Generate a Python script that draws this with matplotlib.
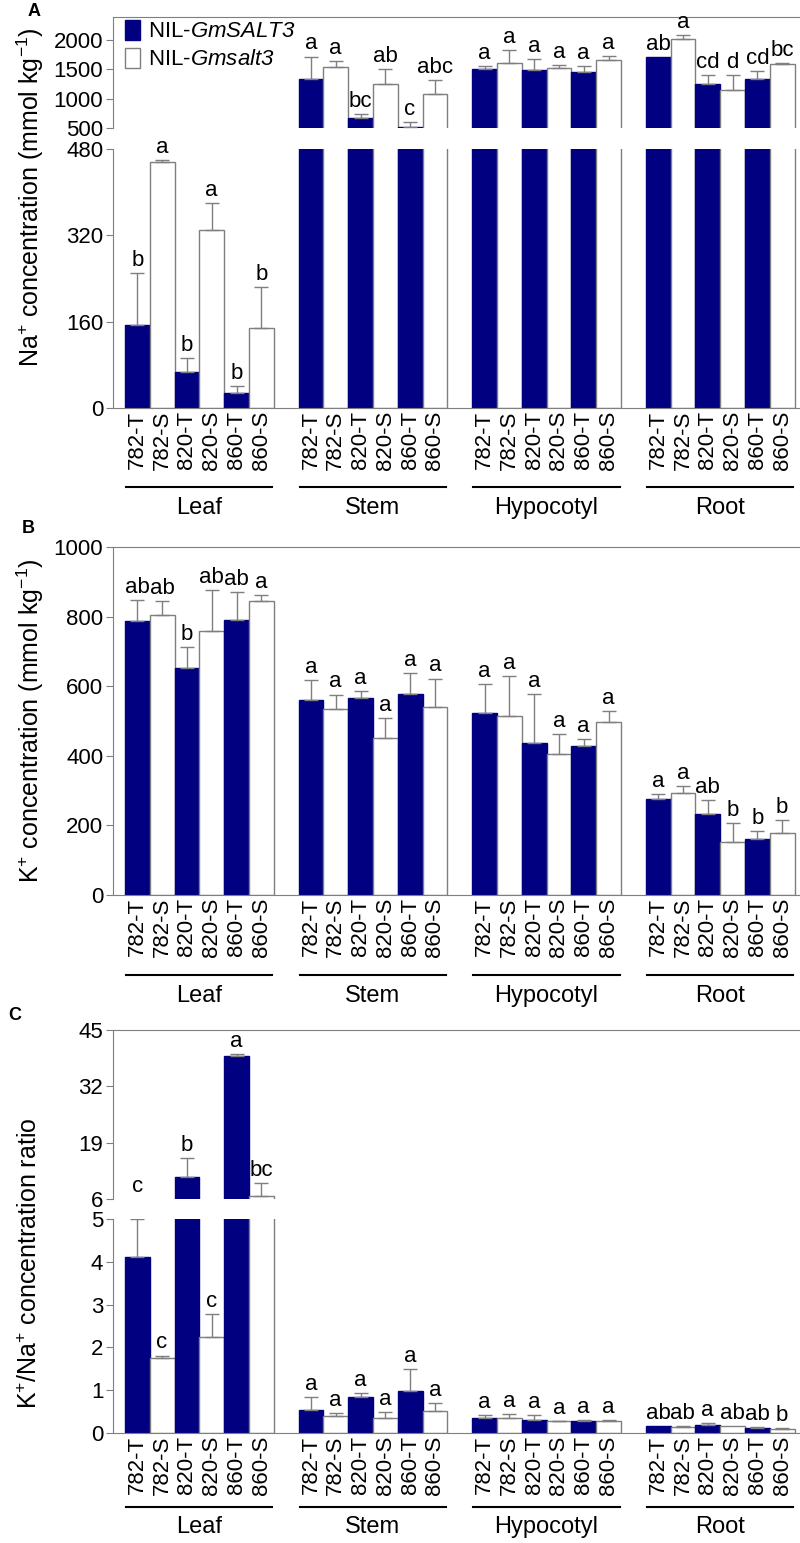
import numpy as np
import matplotlib
matplotlib.use('Agg')
import matplotlib.pyplot as plt
from matplotlib.transforms import ScaledTranslation
from matplotlib.lines import Line2D
from matplotlib.patches import Patch

plt.rcParams['font.family'] = ['Liberation Sans', 'DejaVu Sans']
plt.rcParams['mathtext.fontset'] = 'custom'
plt.rcParams['mathtext.rm'] = 'Liberation Sans'
plt.rcParams['mathtext.it'] = 'Liberation Sans:italic'
plt.rcParams['mathtext.sf'] = 'Liberation Sans:italic'

tissues = ['Leaf', 'Stem', 'Hypocotyl', 'Root']
samples = ['782-T', '782-S', '820-T', '820-S', '860-T', '860-S']

# Na+ concentration (mmol kg-1), one row per tissue
na_mean = [[153, 455, 66, 330, 27, 149],
           [1327, 1532, 677, 1241, 515, 1081],
           [1498, 1600, 1486, 1526, 1446, 1663],
           [1709, 2011, 1247, 1139, 1332, 1589]]
na_err = [[97, 4, 26, 49, 13, 75],
          [388, 102, 57, 268, 80, 234],
          [51, 223, 183, 40, 114, 63],
          [0, 63, 154, 262, 131, 11]]
na_letters = [['b', 'a', 'b', 'a', 'b', 'b'],
              ['a', 'a', 'bc', 'ab', 'c', 'abc'],
              ['a', 'a', 'a', 'a', 'a', 'a'],
              ['ab', 'a', 'cd', 'd', 'cd', 'bc']]

# K+ concentration (mmol kg-1)
k_mean = [[786, 805, 651, 760, 791, 845],
          [559, 534, 566, 451, 578, 540],
          [524, 514, 438, 405, 428, 497],
          [276, 293, 233, 152, 161, 179]]
k_err = [[62, 39, 62, 115, 79, 18],
         [59, 42, 20, 58, 59, 82],
         [83, 116, 140, 58, 19, 32],
         [14, 20, 40, 55, 23, 37]]
k_letters = [['ab', 'ab', 'b', 'ab', 'ab', 'a'],
             ['a', 'a', 'a', 'a', 'a', 'a'],
             ['a', 'a', 'a', 'a', 'a', 'a'],
             ['a', 'a', 'ab', 'b', 'b', 'b']]

# K+/Na+ ratio
r_mean = [[4.12, 1.75, 11.0, 2.24, 39.1, 6.77],
          [0.53, 0.39, 0.83, 0.36, 0.99, 0.52],
          [0.345, 0.34, 0.30, 0.27, 0.28, 0.29],
          [0.165, 0.14, 0.19, 0.17, 0.11, 0.09]]
r_err = [[0.88, 0.06, 4.5, 0.55, 0.4, 2.9],
         [0.30, 0.08, 0.11, 0.13, 0.5, 0.18],
         [0.07, 0.11, 0.13, 0.02, 0.03, 0.02],
         [0.0, 0.015, 0.05, 0.0, 0.02, 0.02]]
r_letters = [['c', 'c', 'b', 'c', 'a', 'bc'],
             ['a', 'a', 'a', 'a', 'a', 'a'],
             ['a', 'a', 'a', 'a', 'a', 'a'],
             ['ab', 'ab', 'a', 'ab', 'ab', 'b']]

NAVY = '#000080'
GREY = '#7f7f7f'
FS = 16

W, H = 800, 1543
fig = plt.figure(figsize=(W / 100, H / 100), dpi=100)


def px_axes(top, bottom, left=113, right=800):
    return fig.add_axes([left / W, 1 - bottom / H, (right - left) / W, (bottom - top) / H])


xpos = np.array([k * 7 + j for k in range(4) for j in range(6)])
xlabels = samples * 4
colors = [NAVY if s.endswith('T') else 'white' for s in xlabels]
edges = [NAVY if s.endswith('T') else GREY for s in xlabels]


def draw_bars(ax, mean, err):
    m = np.array(mean).ravel()
    e = np.array(err).ravel()
    ax.bar(xpos, m, width=1.0, color=colors, edgecolor=edges, linewidth=1)
    keep = e > 0
    ax.errorbar(xpos[keep], m[keep], yerr=[np.zeros(keep.sum()), e[keep]], fmt='none',
                ecolor=GREY, elinewidth=1, capsize=5, capthick=1)
    ax.set_xlim(-0.98, 26.72)


def style(ax, top=True, bottom=True):
    for s in ax.spines.values():
        s.set_color(GREY)
    ax.spines['right'].set_visible(False)
    ax.spines['top'].set_visible(top)
    ax.spines['bottom'].set_visible(bottom)
    ax.tick_params(axis='y', direction='out', length=5, color=GREY, labelsize=FS, pad=2)
    ax.tick_params(axis='x', length=0)


def letters(ax_low, ax_up, mean, err, labs):
    m = np.array(mean).ravel()
    e = np.array(err).ravel()
    lo_max = ax_low.get_ylim()[1]
    for xi, t, s in zip(xpos, m + e, np.array(labs).ravel()):
        ax = ax_low
        y = t
        if ax_up is not None and t >= lo_max * 0.99:
            ax = ax_up
            y = max(t, ax_up.get_ylim()[0])
        ax.annotate(s, (xi, y), xytext=(0, 1.5), textcoords='offset points',
                    ha='center', va='bottom', fontsize=FS, annotation_clip=False)


def xaxis_groups(ax, line_px, text_px):
    ax.set_xticks(xpos)
    ax.set_xticklabels(xlabels, rotation=90, fontsize=FS)
    ax.tick_params(axis='x', pad=2)
    trans = ax.get_xaxis_transform()
    for k, name in enumerate(tissues):
        off = ScaledTranslation(0, -line_px / 100, fig.dpi_scale_trans)
        ax.add_line(Line2D([k * 7 - 0.45, k * 7 + 5.45], [0, 0], transform=trans + off,
                           color='black', lw=1.5, clip_on=False))
        off2 = ScaledTranslation(0, -text_px / 100, fig.dpi_scale_trans)
        ax.text(k * 7 + 2.5, 0, name, transform=trans + off2, ha='center', va='center', fontsize=17)


# Panel A: Na+ with broken axis
a_up = px_axes(17, 128)
a_lo = px_axes(149, 408)
for ax in (a_up, a_lo):
    draw_bars(ax, na_mean, na_err)
a_up.set_ylim(500, 2387)
a_up.set_yticks([500, 1000, 1500, 2000])
a_lo.set_ylim(0, 480)
a_lo.set_yticks([0, 160, 320, 480])
style(a_up, top=True, bottom=False)
style(a_lo, top=False, bottom=True)
a_up.set_xticks([])
letters(a_lo, a_up, na_mean, na_err, na_letters)
xaxis_groups(a_lo, 79, 100)
a_up.legend(handles=[Patch(facecolor=NAVY, edgecolor=NAVY), Patch(facecolor='white', edgecolor=GREY)],
            labels=['NIL-$\\mathsf{GmSALT3}$', 'NIL-$\\mathsf{Gmsalt3}$'], loc='upper left',
            bbox_to_anchor=(0.017, 0.975), frameon=False, fontsize=FS, borderpad=0,
            borderaxespad=0, handlelength=0.7, handleheight=1.0, handletextpad=0.35,
            labelspacing=0.25)
fig.text(30 / W, 1 - 197 / H, 'Na$^{+}$ concentration (mmol kg$^{-1}$)', rotation=90,
         ha='center', va='center', fontsize=18)

# Panel B: K+
b = px_axes(547, 895)
draw_bars(b, k_mean, k_err)
b.set_ylim(0, 1000)
b.set_yticks([0, 200, 400, 600, 800, 1000])
style(b, top=True, bottom=True)
letters(b, None, k_mean, k_err, k_letters)
xaxis_groups(b, 80, 101)
fig.text(30 / W, 1 - 721 / H, 'K$^{+}$ concentration (mmol kg$^{-1}$)', rotation=90,
         ha='center', va='center', fontsize=18)

# Panel C: K+/Na+ ratio with broken axis
c_up = px_axes(1030, 1199)
c_lo = px_axes(1219, 1433)
for ax in (c_up, c_lo):
    draw_bars(ax, r_mean, r_err)
c_up.set_ylim(6, 45)
c_up.set_yticks([6, 19, 32, 45])
c_lo.set_ylim(0, 5)
c_lo.set_yticks([0, 1, 2, 3, 4, 5])
style(c_up, top=True, bottom=False)
style(c_lo, top=False, bottom=True)
c_up.set_xticks([])
letters(c_lo, c_up, r_mean, r_err, r_letters)
xaxis_groups(c_lo, 74, 94)
fig.text(30 / W, 1 - 1263 / H, 'K$^{+}$/Na$^{+}$ concentration ratio', rotation=90,
         ha='center', va='center', fontsize=18)

for lab, x, y in [('A', 34, 11), ('B', 28, 528), ('C', 15, 1016)]:
    fig.text(x / W, 1 - y / H, lab, fontsize=13, fontweight='bold', ha='center', va='center')

fig.savefig('out.png', dpi=100)
